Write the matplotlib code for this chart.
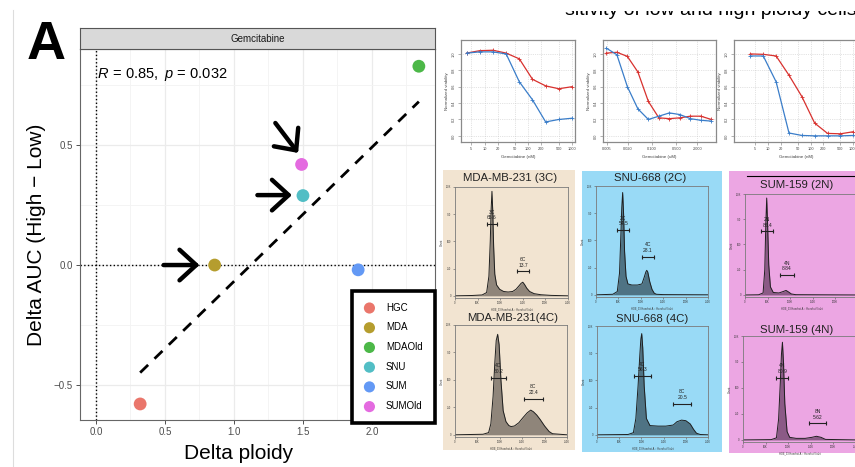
"""Panel A (delta ploidy vs delta AUC, gemcitabine) plus the viability / ploidy insets."""

import matplotlib

matplotlib.use("Agg")
import matplotlib.pyplot as plt
import numpy as np
from matplotlib.lines import Line2D
from matplotlib.patches import Rectangle

W, H = 855, 467

plt.rcParams["font.family"] = ["Liberation Sans", "DejaVu Sans"]
plt.rcParams["mathtext.fontset"] = "custom"
plt.rcParams["mathtext.it"] = "Liberation Sans:italic"
plt.rcParams["mathtext.rm"] = "Liberation Sans"

# ---- panel A: scatter
CELL_LINES = ["HGC", "MDA", "MDAOld", "SNU", "SUM", "SUMOld"]
DELTA_PLOIDY = [0.32, 0.86, 2.34, 1.50, 1.90, 1.49]
DELTA_AUC = [-0.58, 0.00, 0.83, 0.29, -0.02, 0.42]
CELL_COLORS = ["#EA766B", "#B59D2E", "#4CB848", "#52BEC5", "#6399F5", "#E46BE0"]
P_VALUE = 0.032
# arrows: (tail x, tail y, head x, head y) pointing at MDA, SNU, SUMOld
ARROWS = [(0.49, 0.0, 0.75, 0.0), (1.17, 0.292, 1.42, 0.292), (1.30, 0.593, 1.465, 0.468)]

# ---- viability curves (normalized viability vs gemcitabine)
DOSE_NM = [3.9, 7.8, 15.6, 31.25, 62.5, 125, 250, 500, 1000]
DOSE_UM = [0.00488, 0.00977, 0.0195, 0.039, 0.078, 0.156, 0.3125, 0.625, 1.25, 2.5, 5.0]
V1_HIGH = [1.01, 1.04, 1.045, 1.01, 0.94, 0.69, 0.61, 0.575, 0.60]
V1_LOW = [1.01, 1.025, 1.025, 1.00, 0.66, 0.44, 0.17, 0.20, 0.215]
V2_HIGH = [1.01, 1.02, 0.97, 0.78, 0.42, 0.22, 0.21, 0.22, 0.24, 0.24, 0.20]
V2_LOW = [1.07, 0.99, 0.60, 0.33, 0.20, 0.24, 0.28, 0.26, 0.21, 0.19, 0.18]
V3_HIGH = [1.00, 0.995, 0.975, 0.74, 0.48, 0.155, 0.03, 0.025, 0.05]
V3_LOW = [0.975, 0.975, 0.66, 0.035, 0.005, 0.0, 0.0, 0.0, 0.005]

# ---- DNA content histograms (channel 0-1000, fraction of max count)
MDA3_X = [0, 150, 240, 280, 300, 312, 320, 327, 334, 342, 352, 368, 395, 430, 470, 510,
          540, 565, 585, 600, 615, 635, 660, 700, 760, 850, 1000]
MDA3_Y = [0, 0.003, 0.008, 0.03, 0.18, 0.5, 0.8, 0.96, 0.78, 0.45, 0.2, 0.1, 0.06, 0.04,
          0.035, 0.04, 0.06, 0.09, 0.115, 0.125, 0.105, 0.07, 0.04, 0.02, 0.01, 0.004, 0]
SNU2_X = [0, 150, 190, 210, 222, 230, 238, 246, 255, 268, 285, 320, 370, 410, 430, 445,
          453, 462, 480, 500, 520, 540, 600, 1000]
SNU2_Y = [0, 0.005, 0.03, 0.2, 0.55, 0.8, 0.94, 0.75, 0.4, 0.17, 0.1, 0.09, 0.09, 0.1,
          0.16, 0.21, 0.225, 0.21, 0.12, 0.05, 0.015, 0.005, 0.002, 0]
SUM2_X = [0, 120, 160, 175, 184, 192, 200, 210, 225, 250, 300, 340, 363, 385, 410, 450, 1000]
SUM2_Y = [0, 0.002, 0.02, 0.25, 0.7, 0.96, 0.7, 0.3, 0.08, 0.025, 0.02, 0.035, 0.045,
          0.03, 0.01, 0.003, 0]
MDA4_X = [0, 250, 300, 320, 340, 355, 368, 381, 394, 410, 430, 455, 480, 500, 530, 570,
          610, 645, 676, 700, 730, 760, 800, 840, 870, 1000]
MDA4_Y = [0, 0.005, 0.02, 0.1, 0.35, 0.65, 0.86, 0.915, 0.82, 0.5, 0.22, 0.12, 0.085,
          0.075, 0.08, 0.11, 0.16, 0.2, 0.225, 0.21, 0.18, 0.14, 0.08, 0.03, 0.01, 0]
SNU4_X = [0, 280, 328, 350, 370, 385, 395, 403, 412, 425, 445, 477, 550, 620, 687, 720,
          761, 800, 840, 870, 896, 930, 1000]
SNU4_Y = [0, 0.003, 0.02, 0.15, 0.45, 0.72, 0.88, 0.93, 0.8, 0.45, 0.15, 0.085, 0.08,
          0.08, 0.09, 0.12, 0.135, 0.13, 0.1, 0.05, 0.015, 0.003, 0]
SUM4_X = [0, 250, 296, 315, 330, 340, 349, 358, 370, 390, 413, 470, 550, 610, 650, 690, 730, 1000]
SUM4_Y = [0, 0.003, 0.02, 0.2, 0.55, 0.82, 0.94, 0.75, 0.35, 0.08, 0.025, 0.015, 0.015,
          0.025, 0.035, 0.025, 0.005, 0]

# gates: (lo, hi, level, "label\npercent")
MDA3_GATES = [(281, 369, 0.66, "3C\n65.6"), (549, 655, 0.225, "6C\n13.7")]
SNU2_GATES = [(190, 297, 0.595, "2C\n54.5"), (408, 518, 0.35, "4C\n28.1")]
SUM2_GATES = [(142, 250, 0.63, "2N\n86.4"), (310, 434, 0.20, "4N\n8.84")]
MDA4_GATES = [(319, 453, 0.52, "4C\n60.2"), (616, 783, 0.33, "8C\n22.4")]
SNU4_GATES = [(336, 482, 0.54, "4C\n56.3"), (687, 851, 0.285, "8C\n20.5")]
SUM4_GATES = [(296, 398, 0.60, "4N\n80.9"), (585, 735, 0.16, "8N\n5.62")]


def px_axes(fig, left, top, right, bottom, **kw):
    return fig.add_axes([left / W, 1 - bottom / H, (right - left) / W, (bottom - top) / H], **kw)


def px_rect(fig, left, top, right, bottom, color, zorder=-5):
    fig.add_artist(Rectangle((left / W, 1 - bottom / H), (right - left) / W, (bottom - top) / H,
                             transform=fig.transFigure, facecolor=color, edgecolor="none",
                             zorder=zorder))


def draw_scatter(fig):
    ax = px_axes(fig, 80, 49, 435, 420)
    ax.set_xlim(-0.116, 2.457)
    ax.set_ylim(-0.647, 0.902)
    ax.set_xticks([0, 0.5, 1.0, 1.5, 2.0])
    ax.set_xticks([0.25, 0.75, 1.25, 1.75, 2.25], minor=True)
    ax.set_yticks([-0.5, 0.0, 0.5])
    ax.set_yticks([-0.25, 0.25, 0.75], minor=True)
    ax.grid(which="major", color="#EBEBEB", lw=0.9)
    ax.grid(which="minor", color="#F3F3F3", lw=0.6)
    ax.set_axisbelow(True)
    ax.tick_params(which="major", length=3, width=0.6, color="#333333",
                   labelsize=7, labelcolor="#4D4D4D", pad=2)
    ax.tick_params(which="minor", length=0)
    for s in ax.spines.values():
        s.set_color("#666666")
        s.set_linewidth(0.8)

    ax.axvline(0, color="black", ls=":", lw=1.0, zorder=1)
    ax.axhline(0, color="black", ls=":", lw=1.0, zorder=1)

    x = np.array(DELTA_PLOIDY)
    y = np.array(DELTA_AUC)
    slope, intercept = np.polyfit(x, y, 1)
    xs = np.array([x.min(), x.max()])
    ax.plot(xs, slope * xs + intercept, color="black", lw=2.0, ls=(0, (4, 3.2)), zorder=2)

    handles = []
    for name, xi, yi, c in zip(CELL_LINES, DELTA_PLOIDY, DELTA_AUC, CELL_COLORS):
        handles.append(ax.scatter(xi, yi, s=85, color=c, edgecolors="none", zorder=3, label=name))

    r = np.corrcoef(x, y)[0, 1]
    ax.text(0.005, 0.794, rf"$R\,=\,{r:.2f},\ p\,=\,{P_VALUE}$", fontsize=10.5,
            ha="left", va="center")

    for x0, y0, x1, y1 in ARROWS:
        ax.annotate("", xy=(x1, y1), xytext=(x0, y0),
                    arrowprops=dict(arrowstyle="->, head_length=0.6, head_width=0.55",
                                    lw=3.2, color="black", mutation_scale=20,
                                    shrinkA=0, shrinkB=0))

    leg = ax.legend(handles=handles, loc="upper left", bbox_to_anchor=(0.766, -0.005, 0.234, 0.353),
                    mode="expand", borderaxespad=0, frameon=True, fancybox=False,
                    edgecolor="black", framealpha=1, fontsize=7, labelspacing=1.0,
                    borderpad=1.2, handlelength=1.2, handletextpad=1.1, markerscale=0.87)
    leg.get_frame().set_linewidth(2.6)

    ax.set_xlabel("Delta ploidy", fontsize=15, labelpad=6)
    ax.xaxis.set_label_coords((239 - 80) / 355, -0.065)
    ax.set_ylabel("Delta AUC (High \u2212 Low)", fontsize=15, labelpad=6)

    strip = px_axes(fig, 80, 28, 435, 49)
    strip.set_facecolor("#D9D9D9")
    strip.set_xticks([])
    strip.set_yticks([])
    for s in strip.spines.values():
        s.set_color("#555555")
        s.set_linewidth(0.8)
    strip.text(0.5, 0.5, "Gemcitabine", ha="center", va="center", fontsize=7, color="#1A1A1A")

    fig.text(27 / W, 1 - 59 / H, "A", fontsize=39, fontweight="bold", ha="left", va="baseline")


def draw_viability(fig, box, dose, high, low, xlim, xticks, xticklabels, xlabel):
    ax = px_axes(fig, *box)
    ax.set_xscale("log")
    ax.plot(dose, high, color="#D8312E", lw=0.9, marker="+", ms=2.2, mew=0.6)
    ax.plot(dose, low, color="#3A7DC9", lw=0.9, marker="+", ms=2.2, mew=0.6)
    ax.set_xlim(*xlim)
    ax.set_ylim(-0.075, 1.17)
    ax.set_xticks(xticks)
    ax.set_xticklabels(xticklabels)
    ax.minorticks_off()
    ax.set_yticks([0, 0.2, 0.4, 0.6, 0.8, 1.0])
    ax.set_yticklabels(["0.0", "0.2", "0.4", "0.6", "0.8", "1.0"], rotation=90, va="center")
    ax.grid(color="#C8C8C8", ls=":", lw=0.5)
    ax.tick_params(length=2, width=0.4, color="#777777", labelsize=2.8, labelcolor="#444444", pad=1.5)
    ax.set_xlabel(xlabel, fontsize=3.2, color="#444444", labelpad=3)
    ax.set_ylabel("Normalized viability", fontsize=3.2, color="#444444", labelpad=2)
    for s in ax.spines.values():
        s.set_color("#8A8A8A")
        s.set_linewidth(0.9)


def draw_hist(fig, box, xs, ys, gates, fill, title, title_xy):
    ax = px_axes(fig, *box)
    ax.set_facecolor("none")
    ax.fill_between(xs, ys, color=fill, lw=0)
    ax.plot(xs, ys, color="#1E1E1E", lw=0.7)
    ax.set_xlim(0, 1000)
    ax.set_ylim(-0.02, 1.0)
    ax.set_xticks([0, 200, 400, 600, 800, 1000])
    ax.set_xticklabels(["0", "50K", "100K", "150K", "200K", "250K"])
    ax.set_yticks([0, 0.25, 0.5, 0.75, 1.0])
    ax.set_yticklabels(["0", "250", "500", "750", "1.0K"])
    ax.tick_params(length=1.5, width=0.4, color="#555555", labelsize=1.8, labelcolor="#333333", pad=1)
    ax.set_xlabel("HOE_33 Hoechst-A :: Hoechst Violet", fontsize=1.8, color="#333333", labelpad=1.5)
    ax.set_ylabel("Count", fontsize=2, color="#333333", labelpad=1.5)
    for s in ax.spines.values():
        s.set_color("#7A7A7A")
        s.set_linewidth(0.6)
    for lo, hi, lvl, lab in gates:
        ax.plot([lo, hi], [lvl, lvl], color="#222222", lw=0.8, marker="|", ms=3.5, mew=0.8)
        ax.text((lo + hi) / 2, lvl + 0.035, lab, ha="center", va="bottom", fontsize=3.6,
                color="#222222", linespacing=1.15)
    fig.text(title_xy[0] / W, 1 - title_xy[1] / H, title, ha="center", va="center",
             fontsize=8.2, color="#222222")


def main():
    fig = plt.figure(figsize=(W / 100, H / 100), dpi=100)
    fig.patch.set_facecolor("white")

    # coloured backgrounds of the cell-line columns
    px_rect(fig, 443, 170, 575, 450, "#F2E4D1")
    px_rect(fig, 582, 171, 722, 452, "#99DAF6")
    px_rect(fig, 729, 171, 860, 453, "#ECA6E3")
    fig.add_artist(Line2D([13 / W, 13 / W], [0, 1 - 10 / H], transform=fig.transFigure,
                          color="#DDDDDD", lw=0.8))

    draw_scatter(fig)

    draw_viability(fig, (461, 40, 575, 142), DOSE_NM, V1_HIGH, V1_LOW, (2.9, 1172),
                   [5, 10, 20, 50, 100, 200, 500, 1000],
                   ["5", "10", "20", "50", "100", "200", "500", "1000"], "Gemcitabine (nM)")
    draw_viability(fig, (603, 40, 716, 142), DOSE_UM, V2_HIGH, V2_LOW, (0.0039, 6.8),
                   [0.005, 0.02, 0.1, 0.5, 2.0],
                   ["0.005", "0.020", "0.100", "0.500", "2.000"], "Gemcitabine (uM)")
    draw_viability(fig, (734, 40, 859, 142), DOSE_NM, V3_HIGH, V3_LOW, (1.61, 1364),
                   [5, 10, 20, 50, 100, 200, 500, 1000],
                   ["5", "10", "20", "50", "100", "200", "500", "1000"], "Gemcitabine (nM)")

    draw_hist(fig, (455, 187, 568, 298), MDA3_X, MDA3_Y, MDA3_GATES, "#8F857A",
              "MDA-MB-231 (3C)", (510, 178))
    draw_hist(fig, (596, 186, 708, 297), SNU2_X, SNU2_Y, SNU2_GATES, "#4F7384",
              "SNU-668 (2C)", (650, 178))
    draw_hist(fig, (745, 194, 858, 297), SUM2_X, SUM2_Y, SUM2_GATES, "#8B5A86",
              "SUM-159 (2N)", (797, 185))
    draw_hist(fig, (455, 325, 567, 437), MDA4_X, MDA4_Y, MDA4_GATES, "#8F857A",
              "MDA-MB-231(4C)", (513, 318))
    draw_hist(fig, (597, 326, 708, 437), SNU4_X, SNU4_Y, SNU4_GATES, "#4F7384",
              "SNU-668 (4C)", (652, 319))
    draw_hist(fig, (743, 336, 856, 442), SUM4_X, SUM4_Y, SUM4_GATES, "#8B5A86",
              "SUM-159 (4N)", (797, 330))

    fig.add_artist(Line2D([747 / W, 1.0], [1 - 176 / H, 1 - 176 / H], transform=fig.transFigure,
                          color="black", lw=0.8))

    # running text of the page, mostly hidden behind the inset images
    fig.text(565 / W, 1 - 15 / H, "sitivity of low and high ploidy cells [1", fontsize=14,
             ha="left", va="baseline", zorder=2)
    px_rect(fig, 540, -2, 860, 11, "white", zorder=10)

    fig.savefig("out.png", dpi=100)
    plt.close(fig)


if __name__ == "__main__":
    main()
